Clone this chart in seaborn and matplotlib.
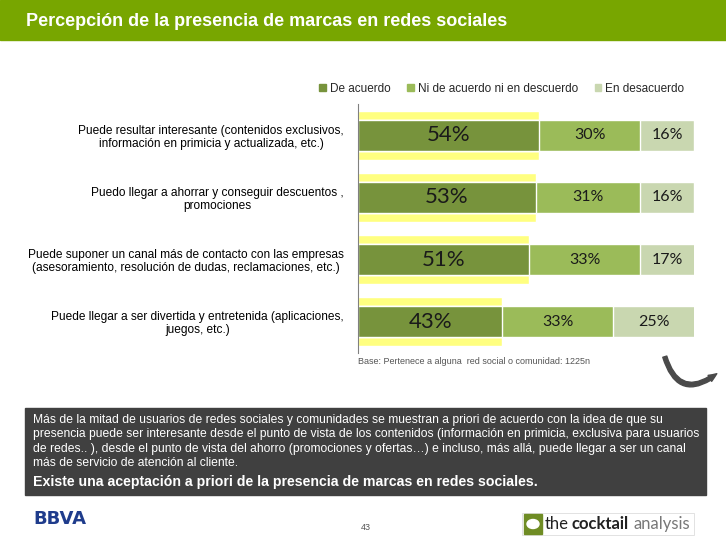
import numpy as np
import pandas as pd
import matplotlib
matplotlib.use("Agg")
import matplotlib.pyplot as plt
import seaborn as sns
from matplotlib.patches import Patch, Rectangle, FancyArrowPatch

# -- data --
categories = [
    "Puede resultar interesante (contenidos exclusivos,\ninformación en primicia y actualizada, etc.)",
    "Puedo llegar a ahorrar y conseguir descuentos ,\npromociones",
    "Puede suponer un canal más de contacto con las empresas\n(asesoramiento, resolución de dudas, reclamaciones, etc.)",
    "Puede llegar a ser divertida y entretenida (aplicaciones,\njuegos, etc.)",
]
de_acuerdo = [54, 53, 51, 43]
ni_ni = [30, 31, 33, 33]
desacuerdo = [16, 16, 17, 25]
series_names = ["De acuerdo", "Ni de acuerdo ni en descuerdo", "En desacuerdo"]

c_dark = "#77933c"
c_mid = "#9bbb59"
c_light = "#c9d7b0"
c_yellow = "#ffff80"
c_title = "#78a600"

df = pd.DataFrame({"cat": categories, "a": de_acuerdo, "n": ni_ni, "d": desacuerdo})
df["cum_n"] = df["a"] + df["n"]
df["cum_d"] = df["cum_n"] + df["d"]

sns.set_theme(style="white")
plt.rcParams["font.family"] = ["Liberation Sans", "DejaVu Sans"]

W, H = 726, 544
fig = plt.figure(figsize=(7.26, 5.44), dpi=100)


def px(x, y):
    return x / W, 1 - y / H


# title bar
fig.patches.append(Rectangle((0, 1 - 40 / H), 1, 40 / H, transform=fig.transFigure,
                             color=c_title, zorder=0))
fig.text(*px(26, 21), "Percepción de la presencia de marcas en redes sociales",
         color="white", fontsize=13, fontweight="bold", va="center", ha="left")

# chart axes
ax = fig.add_axes([358 / W, 1 - 353 / H, 336 / W, 249 / H])
sns.barplot(data=df, y="cat", x="a", orient="h", color=c_yellow, width=0.79,
            saturation=1, ax=ax)
sns.barplot(data=df, y="cat", x="cum_d", orient="h", color=c_light, width=0.5,
            saturation=1, ax=ax)
sns.barplot(data=df, y="cat", x="cum_n", orient="h", color=c_mid, width=0.5,
            saturation=1, ax=ax)
sns.barplot(data=df, y="cat", x="a", orient="h", color=c_dark, width=0.5,
            saturation=1, ax=ax)
ax.set_xlim(0, 100)
ax.set_ylim(3.5, -0.5)
ax.set_xlabel("")
ax.set_ylabel("")
ax.set_xticks([])
for s in ["top", "right", "bottom"]:
    ax.spines[s].set_visible(False)
ax.spines["left"].set_color("#808080")
ax.spines["left"].set_linewidth(0.8)
ax.tick_params(axis="y", length=0, pad=10)
for lab in ax.get_yticklabels():
    lab.set_fontsize(8.6)
    lab.set_multialignment("center")
    lab.set_linespacing(1.1)
    lab.set_color("black")

for i in range(len(categories)):
    ax.text(de_acuerdo[i] / 2, i, f"{de_acuerdo[i]}%", ha="center", va="center",
            fontsize=16, family="Lato", color="#1a1a1a")
    ax.text(de_acuerdo[i] + ni_ni[i] / 2, i, f"{ni_ni[i]}%", ha="center", va="center",
            fontsize=11.5, family="Lato", color="#1a1a1a")
    ax.text(min(df["cum_n"][i] + desacuerdo[i] / 2, (df["cum_n"][i] + 100) / 2), i,
            f"{desacuerdo[i]}%", ha="center", va="center",
            fontsize=11.5, family="Lato", color="#1a1a1a")

# legend
handles = [Patch(color=c) for c in (c_dark, c_mid, c_light)]
fig.legend(handles, series_names, loc="center", bbox_to_anchor=px(502, 89), ncol=3,
           frameon=False, fontsize=8.5, handlelength=0.55, handleheight=0.55,
           handletextpad=0.35, columnspacing=1.4)

# base note
fig.text(*px(358, 361), "Base: Pertenece a alguna  red social o comunidad: 1225n",
         fontsize=6.5, color="#555555", va="center", ha="left")

# curved arrow
arrow = FancyArrowPatch(px(664, 354), px(719, 372), transform=fig.transFigure,
                        connectionstyle="arc3,rad=0.75",
                        arrowstyle="simple,head_width=5,head_length=6,tail_width=3",
                        color="#4a4a4a", mutation_scale=1)
fig.patches.append(arrow)

# conclusion box
fig.patches.append(Rectangle(px(25, 495), 681 / W, 87 / H, transform=fig.transFigure,
                             color="#404040", zorder=0))
body_lines = [
    "Más de la mitad de usuarios de redes sociales y comunidades se muestran a priori de acuerdo con la idea de que su",
    "presencia puede ser interesante desde el punto de vista de los contenidos (información en primicia, exclusiva para usuarios",
    "de redes.. ), desde el punto de vista del ahorro (promociones y ofertas…) e incluso, más allá, puede llegar a ser un canal",
    "más de servicio de atención al cliente.",
]
for k, line in enumerate(body_lines):
    fig.text(*px(33, 420 + 14.3 * k), line, color="white", fontsize=8.7,
             va="center", ha="left")
fig.text(*px(33, 482), "Existe una aceptación a priori de la presencia de marcas en redes sociales.",
         color="white", fontsize=10.2, fontweight="bold", va="center", ha="left")

# footer
fig.text(*px(33, 519), "BBVA", color="#1f3c8c", fontsize=13, fontweight="bold",
         va="center", ha="left", family="Liberation Sans Narrow")
fig.text(*px(366, 528), "43", color="#555555", fontsize=6.5, va="center", ha="center")

fig.patches.append(Rectangle(px(522, 535), 172 / W, 22 / H, transform=fig.transFigure,
                             facecolor="white", edgecolor="#dddddd", lw=0.6, zorder=0))
fig.patches.append(Rectangle(px(524, 534), 18 / W, 20 / H, transform=fig.transFigure,
                             color="#6f8c24", zorder=1))
fig.patches.append(plt.Circle(px(533, 524), 6 / W, transform=fig.transFigure,
                              color="white", zorder=2))
fig.text(*px(545, 524), "the", fontsize=12, color="#222222", va="center", ha="left", family="Lato")
fig.text(*px(571, 524), "cocktail", fontsize=12, color="#222222", fontweight="bold",
         va="center", ha="left", family="Lato")
fig.text(*px(634, 524), "analysis", fontsize=12, color="#777777", va="center", ha="left", family="Lato")

fig.savefig("out.png", dpi=100)
